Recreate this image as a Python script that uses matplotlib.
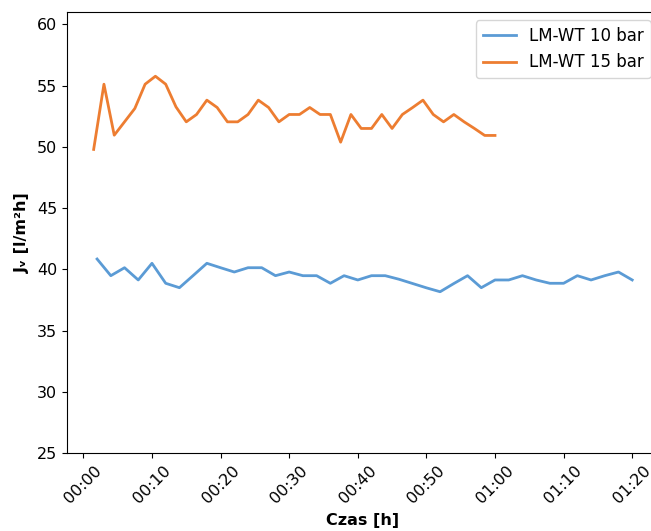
import numpy as np
import matplotlib
matplotlib.use("Agg")
import matplotlib.pyplot as plt
from matplotlib.ticker import MultipleLocator, FuncFormatter

# czas pomiaru [min] i strumien permeatu [l/m2h]
t_10bar = np.arange(1, 41) * 2.0
jv_10bar = [40.85, 39.49, 40.14, 39.14, 40.50, 38.87, 38.51, 39.50, 40.50, 40.14,
            39.79, 40.14, 40.14, 39.49, 39.79, 39.49, 39.49, 38.87, 39.49, 39.14,
            39.49, 39.49, 39.20, 38.85, 38.50, 38.18, 38.85, 39.49, 38.51, 39.14,
            39.14, 39.49, 39.14, 38.87, 38.87, 39.49, 39.14, 39.49, 39.79, 39.14]

t_15bar = np.arange(1, 41) * 1.5
jv_15bar = [49.79, 55.11, 50.95, 52.04, 53.13, 55.11, 55.76, 55.11, 53.26, 52.04,
            52.64, 53.81, 53.21, 52.04, 52.04, 52.64, 53.81, 53.21, 52.04, 52.64,
            52.64, 53.21, 52.64, 52.64, 50.38, 52.64, 51.50, 51.50, 52.64, 51.50,
            52.64, 53.21, 53.81, 52.64, 52.04, 52.64, 52.04, 51.50, 50.93, 50.93]

labels = ["LM-WT 10 bar", "LM-WT 15 bar"]


def hhmm(x, pos):
    m = int(round(x))
    return f"{m // 60:02d}:{m % 60:02d}"


fig = plt.figure(figsize=(6.51, 5.31), dpi=100)
ax = fig.add_axes([0.1025, 0.1463, 0.91, 0.8311])

ax.plot(t_10bar, jv_10bar, color="#5b9bd5", lw=2, label=labels[0])
ax.plot(t_15bar, jv_15bar, color="#ed7d31", lw=2, label=labels[1])

ax.set_ylim(25, 61)
ax.xaxis.set_major_locator(MultipleLocator(10))
ax.xaxis.set_major_formatter(FuncFormatter(hhmm))
ax.tick_params(labelsize=11.5)
plt.setp(ax.get_xticklabels(), rotation=45)

ax.set_xlabel("Czas [h]", fontsize=11.5, fontweight="bold", labelpad=5)
ax.set_ylabel("Jᵥ [l/m²h]", fontsize=11.5, fontweight="bold", labelpad=5)
ax.legend(loc="upper right", fontsize=12)

fig.savefig("out.png", dpi=100)
